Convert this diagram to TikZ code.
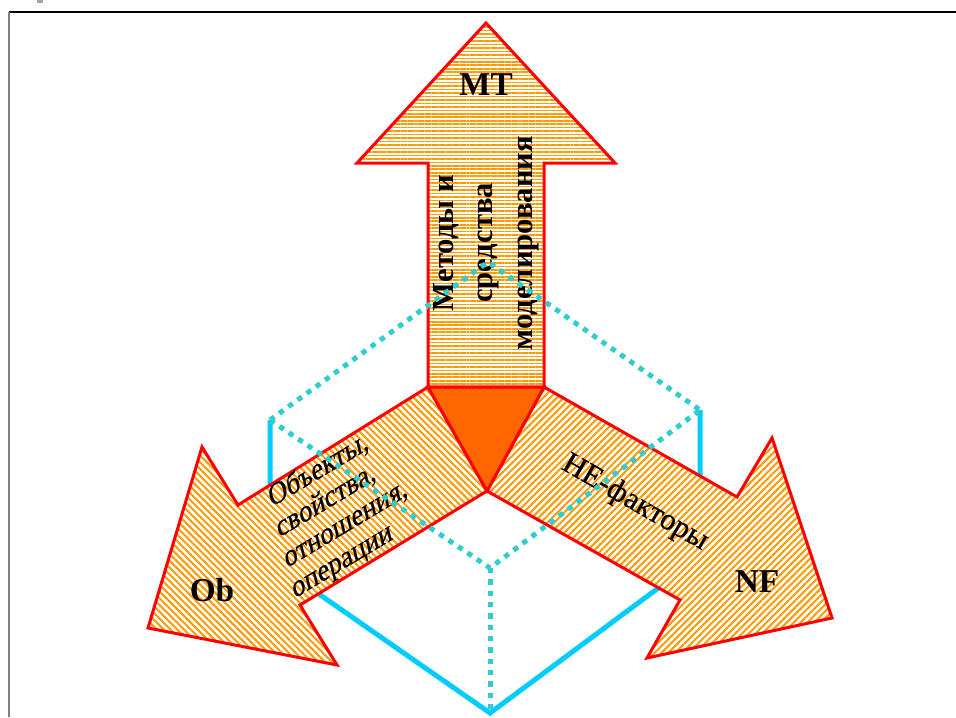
\documentclass[tikz,border=0pt]{standalone}
\usepackage{fontspec}
\setmainfont{Liberation Serif}
\newfontfamily\heavyserif[FakeBold=0.7]{Liberation Serif}
\usetikzlibrary{patterns.meta}
\definecolor{hatchorange}{HTML}{FF9900}
\definecolor{arrowred}{HTML}{FF0000}
\definecolor{coreorange}{HTML}{FF6600}
\definecolor{edgeblue}{HTML}{00CCFF}
\definecolor{dotteal}{HTML}{33CCCC}
\begin{document}
\begin{tikzpicture}[x=0.75pt, y=-0.75pt,
            arrow-shape/.style={draw=arrowred, line width=2.25pt, line join=miter},
            up-fill/.style={preaction={fill=white}, pattern={Lines[angle=0, distance=2.6pt, line width=1.2pt]}, pattern color=hatchorange},
            left-fill/.style={preaction={fill=white}, pattern={Lines[angle=-45, distance=3.6pt, line width=1.5pt]}, pattern color=hatchorange},
            right-fill/.style={preaction={fill=white}, pattern={Lines[angle=45, distance=3.6pt, line width=1.5pt]}, pattern color=hatchorange},
            cube-edge/.style={draw=edgeblue, line width=3.75pt, line join=miter},
            cube-hidden/.style={draw=dotteal, line width=3.75pt, dash pattern=on 4pt off 4.5pt},
            tag-text/.style={font=\bfseries\fontsize{25}{30}\selectfont},
        ]
            \useasboundingbox (0,0) rectangle (956,717);
            \draw[black, line width=1.1pt] (9,12) -- (956,12);
            \draw[gray, line width=1.5pt] (9,12) -- (9,717);
            \fill[gray!70] (37,0) rectangle (43,3);

            \coordinate (top) at (488,262);
            \coordinate (left) at (270,420);
            \coordinate (right) at (700,410);
            \coordinate (front) at (490,568);
            \coordinate (bottom) at (490,713);
            \coordinate (left-low) at (270,560);
            \coordinate (right-low) at (700,557);

            \draw[cube-edge] (left) -- (left-low) -- (bottom) -- (right-low) -- (right);

            \draw[arrow-shape, up-fill] (486,23) -- (615,163) -- (544,163) -- (544,387)
                -- (428,387) -- (428,163) -- (357,163) -- cycle;
            \draw[arrow-shape, left-fill] (428,387) -- (238,505) -- (202,447) -- (148,628)
                -- (337,665) -- (300,605) -- (487,491) -- cycle;
            \draw[arrow-shape, right-fill] (544,387) -- (737,497) -- (772,438) -- (832,618)
                -- (647,658) -- (680,600) -- (487,491) -- cycle;
            \draw[arrow-shape, fill=coreorange] (428,387) -- (544,387) -- (487,491) -- cycle;

            \node[tag-text] (mt) at (486,85) {MT};
            \node[tag-text] (ob) at (212,590) {Ob};
            \node[tag-text] (nf) at (757,582) {NF};
            \node[rotate=90, align=center, font=\bfseries\fontsize{23}{29.5}\selectfont] (mt-text) at (486,243)
                {Методы и\\средства\\моделирования};
            \node[rotate=31, xslant=0.3, align=left, font=\heavyserif\fontsize{21.5}{22.5}\selectfont] (ob-text) at (342,509)
                {Объекты,\\свойства,\\отношения,\\операции};
            \node[rotate=-30, font=\heavyserif\fontsize{23}{28}\selectfont] (nf-text) at (635,503) {НЕ-факторы};

            \draw[cube-hidden] (left) -- (top) -- (right);
            \draw[cube-hidden] (left) -- (front) -- (right);
            \draw[cube-hidden] (front) -- (bottom);
        \end{tikzpicture}
\end{document}
